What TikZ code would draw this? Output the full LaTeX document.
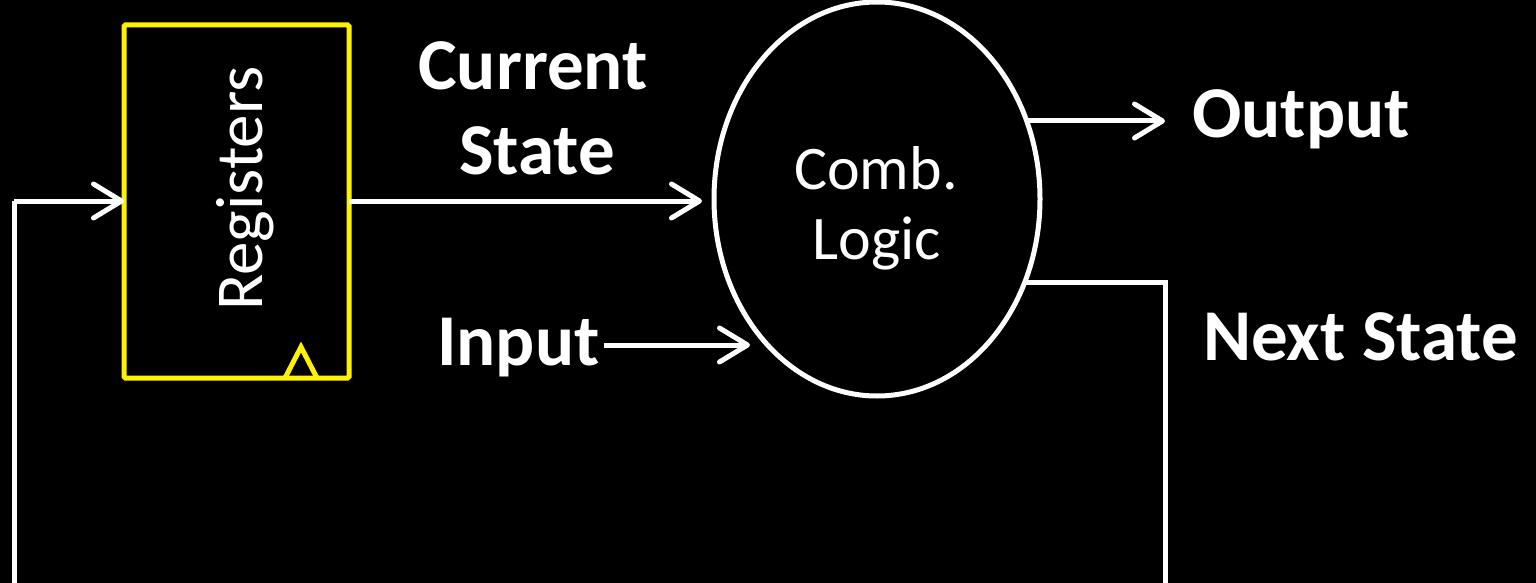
\documentclass[tikz,border=0pt]{standalone}
\usepackage{fontspec}
\setmainfont{Carlito}
\usetikzlibrary{arrows.meta,shapes.geometric}
\begin{document}
\begin{tikzpicture}[x=1pt,y=-1pt,
  wire/.style={draw=white,line width=5pt,line join=miter},
  arr/.style={wire,-{Straight Barb[length=28pt,width=34pt,round]}},
  lbl/.style={text=white,font=\fontsize{73}{86}\selectfont\bfseries,inner sep=0pt},
  lblr/.style={text=white,font=\fontsize{62}{74}\selectfont,inner sep=0pt}]
\useasboundingbox (0,0) rectangle (1536,583);
\fill[black] (0,0) rectangle (1536,583);
\clip (0,0) rectangle (1536,583);
% registers
\node[draw=yellow,line width=5pt,outer sep=0pt,rounded corners=1.5pt,minimum width=225pt,minimum height=353pt,inner sep=0pt,anchor=north west] (reg) at (124,25) {};
\coordinate (clkL) at (285,378);
\coordinate (clkT) at (301,347);
\coordinate (clkR) at (317,378);
\draw[yellow,line width=5pt,line join=miter] (clkL) -- (clkT) -- (clkR);
\node[lblr,font=\fontsize{67}{80}\selectfont,rotate=90,anchor=base west] (regt) at (262,311) {Registers};
% comb logic
\node[draw=white,line width=5pt,outer sep=0pt,ellipse,minimum width=326pt,minimum height=394pt,inner sep=0pt] (cl) at (877,199) {};
\node[lblr,anchor=base] (comb) at (876,189) {Comb.};
\node[lblr,anchor=base] (logic) at (877,259) {Logic};
% labels
\node[lbl,anchor=base] (cur) at (533,90) {Current};
\node[lbl,anchor=base] (st) at (537,175) {State};
\node[lbl,anchor=base west] (inp) at (437,365) {Input};
\node[lbl,anchor=base west] (outp) at (1192,138) {Output};
\node[lbl,anchor=base west] (nxt) at (1203,360) {Next State};
% coordinates
\coordinate (csTip) at (702,201);
\coordinate (inS) at (604,345);
\coordinate (inTip) at (750,345);
\coordinate (oS) at (1026,121);
\coordinate (oTip) at (1165,121);
\coordinate (nS) at (1026,282);
\coordinate (nC) at (1165,282);
\coordinate (nB) at (1165,620);
\coordinate (fB) at (14,620);
\coordinate (fT) at (14,201);
% connectors
\draw[arr] (reg.east |- csTip) -- (csTip);
\draw[arr] (inS) -- (inTip);
\draw[arr] (oS) -- (oTip);
\draw[wire] (nS) -- (nC) -- (nB) -- (fB) -- (fT);
\draw[arr] (fT) -- (reg.west |- fT);
\end{tikzpicture}
\end{document}
